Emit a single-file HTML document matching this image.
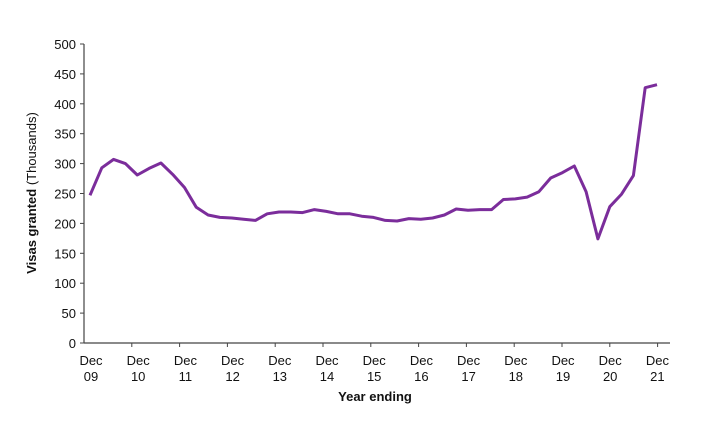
<!DOCTYPE html>
<html><head><meta charset="utf-8"><style>
body{margin:0;background:#fff;}
svg{display:block;font-family:"Liberation Sans",Arial,sans-serif;}
</style></head><body>
<svg width="707" height="423" viewBox="0 0 707 423">
<g id="axes"></g>
<g id="plot"></g>
</svg>
<script>
const yTicks=[0,50,100,150,200,250,300,350,400,450,500];
const xLabels=["09","10","11","12","13","14","15","16","17","18","19","20","21"];
const values=[247,293,307,300,281,292,301,282,260,227,214,210,209,207,205,216,219,219,218,223,220,216,216,212,210,205,204,208,207,209,214,224,222,223,223,240,241,244,253,276,285,296,253,174,228,249,280,427,432];
const NS="http://www.w3.org/2000/svg";
const x0=84,xEnd=670,y0=343,yTop=44;
function ys(v){return y0-(v/500)*(y0-yTop);}
function xs(i){return 90+i*(657-90)/(values.length-1);}
const axes=document.getElementById('axes'),plot=document.getElementById('plot');
function mk(tag,attrs,parent,text){const e=document.createElementNS(NS,tag);for(const k in attrs)e.setAttribute(k,attrs[k]);if(text!==undefined)e.textContent=text;parent.appendChild(e);return e;}
let yl=mk('line',{x1:x0,y1:yTop,x2:x0,y2:y0,stroke:'#444','stroke-width':1.2},axes);

let xl=mk('line',{x1:x0,y1:y0,x2:xEnd,y2:y0,stroke:'#444','stroke-width':1.2},axes);

yTicks.forEach(v=>{
  const y=ys(v);
  mk('line',{x1:x0-4,y1:y,x2:x0,y2:y,stroke:'#444'},axes);
  const t=mk('text',{x:x0-8,y:y+5,'text-anchor':'end','font-size':13,fill:'#111'},axes,String(v));
  
  
});
xLabels.forEach((l,i)=>{
  const xc=91+i*47.2;
  const tx=84+(i+1)*47.8;
  if(i<12) mk('line',{x1:tx,y1:y0,x2:tx,y2:y0+4,stroke:'#444'},axes);
  const t=mk('text',{x:xc,y:365,'text-anchor':'middle','font-size':13,fill:'#111'},axes);
  
  
  mk('tspan',{x:xc,dy:0},t,'Dec');
  mk('tspan',{x:xc,dy:16},t,l);
});
const xt=mk('text',{x:375,y:401,'text-anchor':'middle','font-size':13,'font-weight':'bold',fill:'#111'},axes,'Year ending');

const yt=mk('text',{x:0,y:0,transform:'translate(36,193) rotate(-90)','text-anchor':'middle','font-size':13,fill:'#111'},axes);

mk('tspan',{'font-weight':'bold'},yt,'Visas granted ');
mk('tspan',{},yt,'(Thousands)');
const pts=values.map((v,i)=>xs(i).toFixed(1)+','+ys(v).toFixed(1)).join(' ');
const pl=mk('polyline',{points:pts,fill:'none',stroke:'#7b2d9b','stroke-width':3,'stroke-linejoin':'round'},plot);

</script>
</body></html>
